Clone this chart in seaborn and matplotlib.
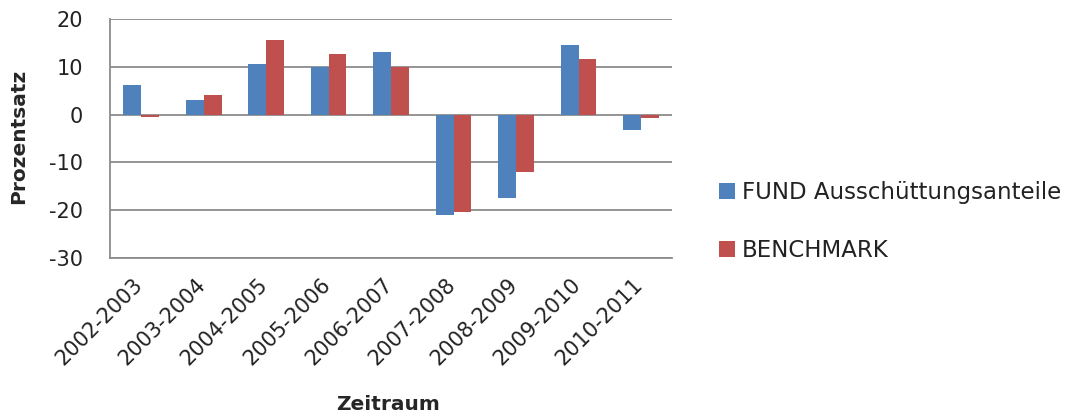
import pandas as pd
import matplotlib
matplotlib.use("Agg")
import matplotlib.pyplot as plt
import matplotlib.transforms as mtransforms
import seaborn as sns

# values (percent)
periods = ["2002-2003", "2003-2004", "2004-2005", "2005-2006", "2006-2007",
           "2007-2008", "2008-2009", "2009-2010", "2010-2011"]
fund = [6.1, 3.1, 10.5, 10.0, 13.0, -21.0, -17.5, 14.5, -3.2]
benchmark = [-0.6, 4.1, 15.5, 12.6, 9.9, -20.4, -12.1, 11.6, -0.7]
series_names = ["FUND Ausschüttungsanteile", "BENCHMARK"]
y_ticks = [-30, -20, -10, 0, 10, 20]

df = pd.DataFrame({
    "Zeitraum": periods * 2,
    "Prozentsatz": fund + benchmark,
    "Serie": [series_names[0]] * len(periods) + [series_names[1]] * len(periods),
})

sns.set_theme(style="white")
plt.rcParams["font.family"] = ["DejaVu Sans"]
plt.rcParams["axes.unicode_minus"] = False
plt.rcParams["text.color"] = "#222222"
plt.rcParams["xtick.color"] = "#222222"
plt.rcParams["ytick.color"] = "#222222"

fig = plt.figure(figsize=(10.71, 4.19), dpi=100)
ax = fig.add_axes([0.1027, 0.3842, 0.525, 0.5705])

sns.barplot(data=df, x="Zeitraum", y="Prozentsatz", hue="Serie",
            palette=["#4F81BD", "#C0504D"], width=0.57, gap=0,
            saturation=1, linewidth=0, ax=ax, zorder=3)

ax.set_ylim(-30, 20)
ax.set_yticks(y_ticks)
ax.set_xlim(-0.5, len(periods) - 0.5)
ax.yaxis.grid(True, color="#8c8c8c", linewidth=1.3, zorder=0)
for s in ["top", "right"]:
    ax.spines[s].set_visible(False)
for s in ["left", "bottom"]:
    ax.spines[s].set_color("#8c8c8c")
    ax.spines[s].set_linewidth(1.3)
ax.tick_params(axis="y", length=7.5, color="#8c8c8c", width=1.3, labelsize=15, pad=12)
ax.tick_params(axis="x", length=0, labelsize=15, pad=12)

# shift rotated category labels so their end sits under the category centre
shift = mtransforms.ScaledTranslation(-6 / 72, 0, fig.dpi_scale_trans)
for lab in ax.get_xticklabels():
    lab.set_rotation(45)
    lab.set_ha("right")
    lab.set_rotation_mode("anchor")
    lab.set_transform(lab.get_transform() + shift)

ax.set_xlabel("Zeitraum", fontsize=14.5, fontweight="bold")
ax.set_ylabel("Prozentsatz", fontsize=14.5, fontweight="bold")
ax.xaxis.set_label_coords(0.495, -0.573)
ax.yaxis.set_label_coords(-0.146, 0.51)

handles, labels = ax.get_legend_handles_labels()
ax.get_legend().remove()
fig.legend(handles, labels, loc="center left", bbox_to_anchor=(0.671, 0.4714),
           frameon=False, fontsize=16.5, handlelength=0.7, handleheight=0.7,
           handletextpad=0.3, labelspacing=1.5, borderpad=0, borderaxespad=0)

fig.savefig("out.png", dpi=100)
